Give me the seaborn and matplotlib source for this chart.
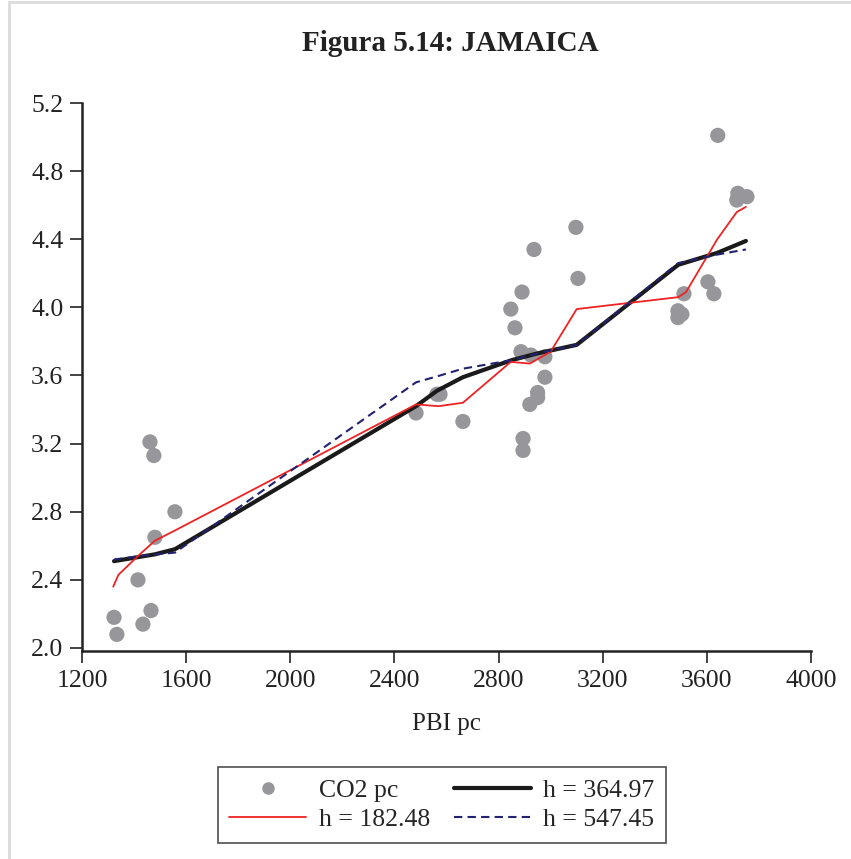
import numpy as np
import pandas as pd
import matplotlib
matplotlib.use("Agg")
import matplotlib.pyplot as plt
import seaborn as sns
from matplotlib.lines import Line2D

# ---- data ----
pbi = [1323, 1334, 1415, 1434, 1461, 1465, 1476, 1480, 1557,
       2483, 2563, 2575, 2663,
       2847, 2863, 2890, 2886, 2936, 3097, 3105, 2894, 2894, 2920,
       2950, 2950, 2978, 2978, 2924,
       3642, 3719, 3754, 3715, 3604, 3627, 3512, 3489, 3504, 3489]
co2 = [2.18, 2.08, 2.40, 2.14, 3.21, 2.22, 3.13, 2.65, 2.80,
       3.38, 3.49, 3.49, 3.33,
       3.99, 3.88, 4.09, 3.74, 4.34, 4.47, 4.17, 3.23, 3.16, 3.43,
       3.50, 3.47, 3.59, 3.71, 3.72,
       5.01, 4.67, 4.65, 4.63, 4.15, 4.08, 4.08, 3.98, 3.96, 3.94]

h1_x = [1320, 1340, 1415, 1480, 1557, 2483, 2570, 2663, 2847, 2920, 3000, 3100, 3490, 3520, 3640, 3715, 3750]
h1_y = [2.36, 2.43, 2.54, 2.63, 2.69, 3.43, 3.42, 3.44, 3.68, 3.67, 3.74, 3.99, 4.06, 4.09, 4.40, 4.56, 4.59]

h2_x = [1323, 1480, 1557, 2483, 2563, 2663, 2850, 2950, 3100, 3490, 3640, 3750]
h2_y = [2.51, 2.55, 2.58, 3.42, 3.51, 3.59, 3.69, 3.73, 3.78, 4.25, 4.32, 4.39]

h3_x = [1323, 1480, 1557, 2483, 2575, 2663, 2850, 2950, 3100, 3490, 3640, 3750]
h3_y = [2.52, 2.55, 2.56, 3.56, 3.60, 3.64, 3.69, 3.73, 3.78, 4.26, 4.31, 4.34]

xticks = [1200, 1600, 2000, 2400, 2800, 3200, 3600, 4000]
yticks = [2.0, 2.4, 2.8, 3.2, 3.6, 4.0, 4.4, 4.8, 5.2]

sns.set_style("white")
plt.rcParams['font.family'] = ['Liberation Serif', 'DejaVu Serif']

W, H = 851, 859
fig = plt.figure(figsize=(W / 100, H / 100), dpi=100)
ax = fig.add_axes([82 / W, 1 - 651 / H, (811 - 82) / W, (651 - 103) / H])

scat = pd.DataFrame({"PBI pc": pbi, "CO2 pc": co2})
sns.scatterplot(data=scat, x="PBI pc", y="CO2 pc", ax=ax, color="#96969b",
                s=120, edgecolor="none", zorder=2)
sns.lineplot(x=h2_x, y=h2_y, ax=ax, color="#1a1a1a", lw=3.0, sort=False,
             estimator=None, zorder=4)
sns.lineplot(x=h1_x, y=h1_y, ax=ax, color="#ee2222", lw=1.3, sort=False,
             estimator=None, zorder=5)
sns.lineplot(x=h3_x, y=h3_y, ax=ax, color="#22226e", lw=1.5, sort=False,
             estimator=None, zorder=6, linestyle=(0, (4, 2.5)))

ax.set_xlim(1200, 4000)
ax.set_ylim(2.0 - 3 / 170.3, 5.2)
ax.set_xticks(xticks)
ax.set_yticks(yticks)
ax.set_yticklabels([f"{v:.1f}" for v in yticks])
for s in ["top", "right"]:
    ax.spines[s].set_visible(False)
for s in ["left", "bottom"]:
    ax.spines[s].set_color("#222222")
    ax.spines[s].set_linewidth(1.8)
ax.tick_params(axis="both", direction="out", length=8.5, width=1.2,
               color="#222222", labelsize=18.5, labelcolor="#222222", pad=5,
               left=True, bottom=True)
ax.set_xlabel("PBI pc", fontsize=18, color="#222222", labelpad=15)
ax.set_ylabel("")

fig.text(450 / W, 1 - 51 / H, "Figura 5.14: JAMAICA", ha="center",
         va="baseline", fontsize=21, fontweight="bold", color="#222222")

handles = [
    Line2D([], [], marker="o", ls="none", color="#96969b", markersize=8),
    Line2D([], [], color="#ee2222", lw=1.3),
    Line2D([], [], color="#1a1a1a", lw=3.0),
    Line2D([], [], color="#22226e", lw=1.5, linestyle=(0, (4, 2.5))),
]
labels = ["CO2 pc", "h = 182.48", "h = 364.97", "h = 547.45"]
leg = fig.legend(handles, labels, ncol=2, loc="center",
                 bbox_to_anchor=(442 / W, 1 - 805 / H), fontsize=18.5,
                 frameon=True, fancybox=False, shadow=False,
                 handlelength=3.0, columnspacing=0.9, handletextpad=0.5,
                 borderpad=0.45, labelspacing=0.25, borderaxespad=0)
leg.get_frame().set_edgecolor("#222222")
leg.get_frame().set_linewidth(1.2)

# light frame of the original image
fig.add_artist(Line2D([9 / W, 1], [1 - 2 / H, 1 - 2 / H], color="#dcdcdc", lw=2))
fig.add_artist(Line2D([9 / W, 9 / W], [1 - 2 / H, 0], color="#dcdcdc", lw=2))

fig.savefig("out.png", dpi=100)
